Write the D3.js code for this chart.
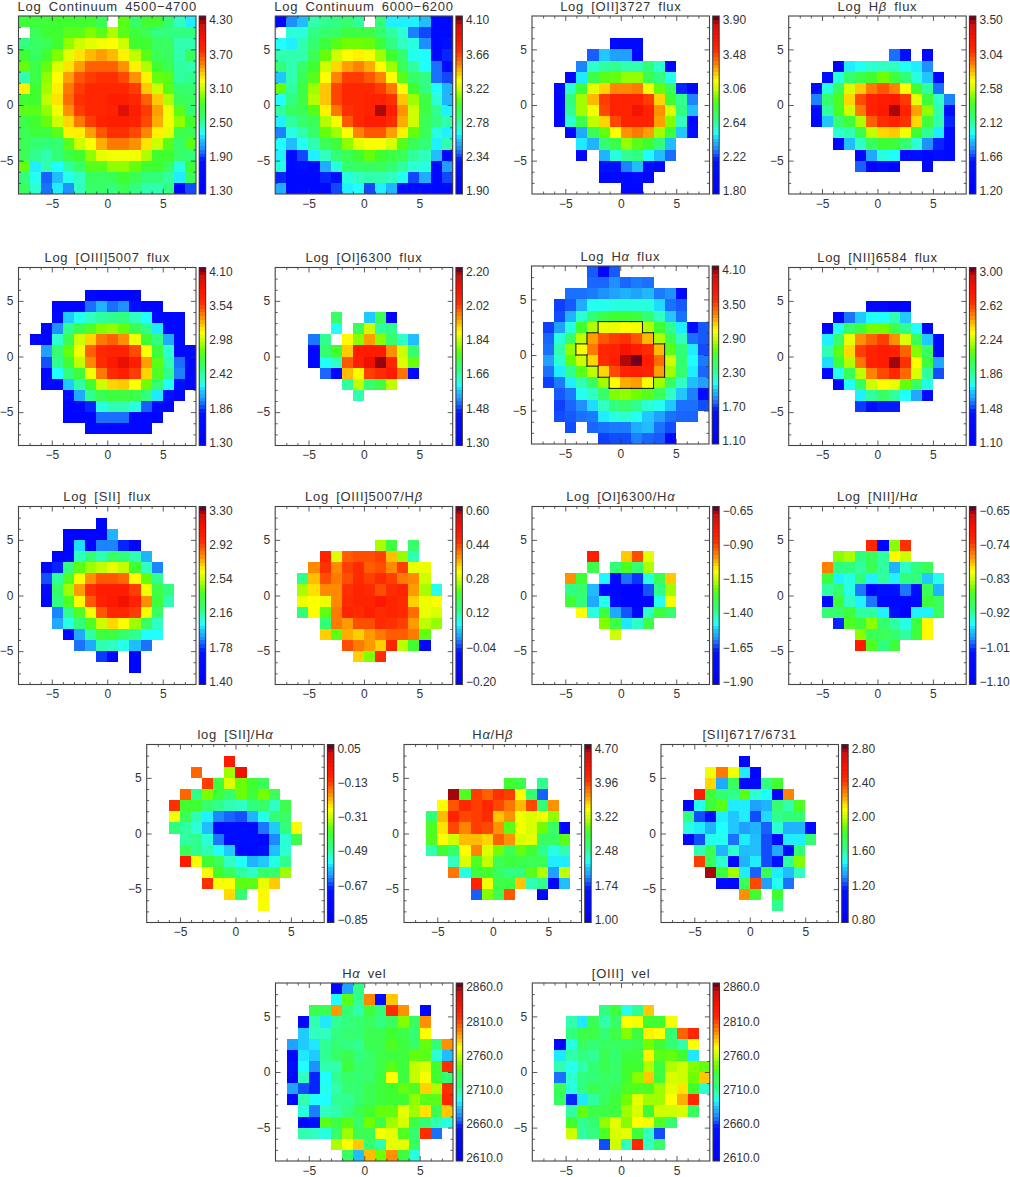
<!DOCTYPE html>
<html>
<head>
<meta charset="utf-8">
<script src="https://cdn.jsdelivr.net/npm/d3@7"></script>
<style>
body { margin: 0; background: #fff; }
text { font-family: "Liberation Sans", sans-serif; fill: #333; }
</style>
</head>
<body>
<script>
// rows run from y = 7..8 down to y = -8..-7, holes are empty cells
var contBlue = [
[2.77,2.77,2.77,2.8,2.8,2.8,2.8,2.71,,2.86,2.65,2.8,2.8,2.62,2.44,2.29],
[,2.71,2.8,2.8,2.86,2.86,2.95,2.86,3.04,2.86,2.77,2.71,2.56,2.56,2.56,2.56],
[2.56,2.65,2.71,2.8,2.98,3.1,3.16,3.19,3.22,3.1,2.8,2.8,2.68,2.68,2.47,2.47],
[2.8,2.68,2.8,2.95,3.16,3.28,3.37,3.43,3.37,3.25,3.07,2.86,2.71,2.68,2.47,2.68],
[2.89,2.74,2.89,3.13,3.28,3.43,3.58,3.58,3.58,3.46,3.25,3.04,2.8,2.71,2.5,2.47],
[2.47,2.74,2.98,3.22,3.43,3.61,3.67,3.7,3.7,3.64,3.46,3.25,2.89,2.86,2.5,2.53],
[3.25,2.8,3.01,3.25,3.52,3.67,3.76,3.76,3.76,3.76,3.67,3.34,3.1,2.86,2.62,2.62],
[2.8,2.8,3.07,3.28,3.55,3.7,3.76,3.76,3.82,3.82,3.76,3.58,3.34,3.04,2.71,2.68],
[2.86,2.86,2.98,3.19,3.46,3.67,3.76,3.76,3.79,4.09,3.82,3.67,3.43,3.19,2.86,2.62],
[2.74,2.8,2.89,3.1,3.31,3.52,3.67,3.79,3.82,3.82,3.79,3.64,3.4,3.19,2.98,2.8],
[2.71,2.77,2.77,2.86,3.25,3.25,3.43,3.61,3.7,3.7,3.64,3.49,3.25,3.16,2.74,2.71],
[2.71,2.62,2.59,2.62,2.86,3.1,3.22,3.4,3.52,3.52,3.46,3.28,3.1,2.86,2.65,2.86],
[2.71,2.53,2.47,2.59,2.74,2.8,2.98,3.16,3.19,3.19,3.19,3.04,2.8,2.8,2.65,2.59],
[2.89,2.29,2.47,2.32,2.5,2.65,2.86,2.86,2.98,2.98,2.89,2.8,2.8,2.68,2.38,2.77],
[2.59,2.35,1.99,2.2,2.35,2.44,2.68,2.68,2.71,2.8,2.71,2.59,2.59,2.5,2.29,2.71],
[2.68,2.41,2.02,2.29,2.08,2.44,2.65,2.65,2.56,2.71,2.56,2.47,2.47,2.56,1.45,1.96]
];
var contRed = [
[2.12,2.47,2.56,2.76,2.8,2.82,2.87,2.78,,2.85,2.63,2.63,2.63,2.56,2.12,2.12],
[,2.71,2.69,2.82,2.87,2.89,2.96,2.96,2.96,2.87,2.78,2.71,2.45,2.38,2.12,2.12],
[2.65,2.63,2.76,2.87,2.98,3.04,3.09,3.09,3.07,2.98,2.82,2.74,2.69,2.47,2.12,2.3],
[2.76,2.76,2.76,2.93,3.07,3.22,3.31,3.33,3.29,3.15,3,2.87,2.67,2.65,2.12,2.34],
[2.85,2.76,2.89,3,3.22,3.37,3.46,3.51,3.44,3.31,3.15,2.93,2.78,2.65,2.43,2.16],
[2.58,2.76,2.93,3.04,3.31,3.51,3.64,3.64,3.59,3.51,3.31,3.04,2.89,2.82,2.43,2.38],
[3.07,2.78,2.96,3.15,3.4,3.62,3.7,3.7,3.7,3.64,3.53,3.31,3,2.82,2.65,2.54],
[2.65,2.82,2.96,3.18,3.4,3.62,3.7,3.7,3.73,3.73,3.66,3.4,3.15,2.96,2.71,2.54],
[2.78,2.91,2.93,3.04,3.33,3.53,3.66,3.7,3.73,4.03,3.75,3.48,3.22,2.96,2.8,2.63],
[2.63,2.78,2.87,2.93,3.18,3.29,3.59,3.7,3.75,3.75,3.68,3.44,3.22,2.93,2.82,2.76],
[2.45,2.69,2.76,2.89,3.07,3.15,3.31,3.51,3.59,3.59,3.46,3.33,3.07,2.93,2.69,2.63],
[2.65,2.56,2.67,2.76,2.93,2.98,3.13,3.26,3.31,3.31,3.24,3.04,2.93,2.85,2.63,2.76],
[2.63,2.16,2.38,2.63,2.74,2.85,2.93,3,3.07,3,2.96,2.93,2.78,2.74,2.56,2.12],
[2.69,2.12,2.27,2.12,2.52,2.69,2.87,2.91,2.91,2.93,2.87,2.78,2.71,2.69,2.12,2.49],
[2.34,2.12,2.12,2.12,2.34,2.3,2.69,2.74,2.76,2.76,2.74,2.67,2.38,2.52,2.12,2.38],
[2.52,2.12,2.12,2.12,2.12,2.38,2.63,2.65,2.38,2.63,2.54,2.27,2.23,2.12,2.12,2.12]
];
var oiiFlux = [
[],
[],
[,,,,,,,2,2,2],
[,,,,,2.28,2.45,2.37,2.37,1.97],
[,,,,2.33,2.58,2.64,2.66,2.62,2.62,2.7,2.58,2.01],
[,,,1.97,2.49,2.81,2.89,2.91,2.98,2.98,2.79,2.68,2.54],
[,,2.05,2.58,2.83,3.1,3.21,3.33,3.33,3.35,3.12,2.91,2.77,2.22,1.97],
[,,1.97,2.7,3,3.25,3.46,3.54,3.54,3.54,3.46,3.21,2.85,2.66,2.33],
[,,1.97,2.66,3,3.12,3.44,3.54,3.54,3.65,3.54,3.31,3.08,2.68,2.43],
[,,1.97,2.58,2.81,3.04,3.21,3.44,3.54,3.54,3.54,3.29,2.96,2.6,1.97],
[,,,1.97,2.39,2.79,2.91,3.14,3.31,3.35,3.29,3,2.83,2.45,2.12],
[,,,,2.49,2.41,2.72,2.81,2.98,2.89,2.85,2.7,2.43],
[,,,,1.97,,2.41,2.56,2.66,2.68,2.51,2.43,2.3],
[,,,,,,2.18,2.18,2.33,2.43,2.07,2.01],
[,,,,,,2.01,2.01,2.01,2.09,1.97],
[,,,,,,,,1.97,1.97]
];
var hbFlux = [
[],
[],
[],
[,,,,,,,,,1.75,1.61,,1.38],
[,,,,1.32,1.96,2,2.05,2.07,2.07,2,1.96,1.8],
[,,,1.55,2.03,2.21,2.3,2.35,2.44,2.33,2.19,2.03,1.91,1.38],
[,,1.5,2.03,2.26,2.6,2.76,2.9,2.97,2.88,2.67,2.35,2.12,1.75],
[,,1.78,2.21,2.37,2.74,2.99,3.11,3.13,3.16,3.02,2.63,2.33,2.07,1.78],
[,,1.48,2.12,2.37,2.58,2.9,3.11,3.16,3.43,3.11,2.83,2.49,2.1,1.55],
[,,1.38,1.91,2.21,2.33,2.53,2.95,3.06,3.11,3.04,2.74,2.33,2.1,1.66],
[,,,,2.05,2.1,2.3,2.56,2.74,2.76,2.65,2.35,2.14,1.96,1.48],
[,,,,1.36,1.89,2.07,2.26,2.35,2.33,2.21,2.05,1.8,1.66,1.43],
[,,,,,,1.38,1.84,2.03,1.98,1.52,1.61,1.43,1.57,1.48],
[,,,,,,1.73,1.32,1.52,1.36,,,1.36],
[],
[]
];
var oiiiFlux = [
[],
[],
[,,,,,,1.58,1.5,1.5,1.5,1.5],
[,,,1.47,1.47,1.5,1.97,2.11,1.97,2.03,1.75,1.5,1.5],
[,,,1.58,2.17,2.28,2.36,2.42,2.45,2.48,2.36,2.25,1.58,1.58,1.58],
[,,1.5,2.03,2.45,2.62,2.73,2.84,2.87,2.78,2.62,2.45,2.22,1.58,1.58],
[,1.5,1.5,2.34,2.62,2.98,3.18,3.37,3.43,3.32,3.06,2.7,2.48,2.08,1.58],
[,,2.06,2.53,2.78,3.06,3.43,3.6,3.62,3.62,3.48,3.09,2.67,2.34,1.58,1.58],
[,,1.92,2.45,2.7,2.95,3.34,3.57,3.68,3.85,3.65,3.29,2.76,2.39,1.97,1.58],
[,,1.52,2.25,2.5,2.67,3.06,3.37,3.57,3.65,3.51,3.18,2.73,2.45,2,1.52],
[,,1.52,1.52,2.17,2.42,2.7,2.98,3.18,3.2,3.09,2.81,2.53,2.25,1.78,1.52],
[,,,,1.72,2.08,2.45,2.62,2.67,2.67,2.64,2.48,2.22,1.8,1.52],
[,,,,1.5,1.52,1.86,2.31,2.39,2.39,2.31,1.94,1.58,1.55],
[,,,,1.5,1.5,1.5,1.97,1.97,1.97,1.55,1.55,1.5],
[,,,,,,1.58,1.58,1.55,1.52,1.52,1.52],
[]
];
var oiFlux = [
[],
[],
[],
[],
[,,,,,1.71,,,1.58,1.72,1.35],
[,,,,,1.61,,1.72,1.84,1.66,1.67],
[,,,1.52,1.67,,1.88,1.8,1.94,1.8,1.7,1.64,1.57],
[,,,1.37,1.7,1.75,1.91,2.06,2.06,2.06,1.95,1.84,1.7],
[,,,1.37,1.61,1.64,1.99,2.05,2.11,2.18,2.04,1.85,1.78],
[,,,,1.51,1.37,1.92,1.88,2.01,2.03,2.06,1.97,1.37],
[,,,,,,1.66,1.83,1.7,1.74,1.83],
[,,,,,,,1.65],
[],
[],
[],
[]
];
var haFlux = [
[,,,,,1.78,1.36,1.78],
[,,,,,1.8,1.8,1.88,1.8,1.84,1.82],
[,,,1.82,1.82,1.84,1.88,1.92,1.96,1.92,1.98,1.84,1.88,1.37],
[,,1.74,1.78,1.95,2.15,2.15,2.18,2.18,2.18,2.18,2.06,1.82,1.78],
[,,1.76,1.97,2.21,2.39,2.54,2.6,2.6,2.57,2.42,2.24,2.03,1.82],
[,1.74,1.91,2.18,2.6,2.84,2.97,2.97,3.02,3,2.84,2.6,2.33,2.09,1.5,1.78],
[,1.8,2.18,2.45,2.87,3.23,3.41,3.47,3.5,3.41,3.17,2.84,2.51,2.24,1.82,1.78],
[,1.82,2.27,2.78,3,3.32,3.56,3.59,3.74,3.62,3.53,3.17,2.66,2.39,2.09,1.76],
[,1.91,2.21,2.69,2.9,3.11,3.53,3.62,4,4.07,3.62,3.35,2.9,2.42,2.12,1.84],
[,1.82,2.09,2.33,2.66,2.87,3.11,3.44,3.59,3.62,3.59,3.23,2.81,2.42,2.09,1.8],
[,1.74,1.84,2.09,2.27,2.48,2.81,3.02,3.2,3.23,3,2.81,2.48,2.24,2,1.91],
[,,1.78,1.84,2.15,2.24,2.45,2.75,2.78,2.72,2.66,2.51,2.24,2.03,1.85,1.5],
[,,1.74,1.8,1.88,2.06,2.24,2.36,2.45,2.33,2.21,2.15,2.03,1.82,1.82,1.76],
[,,1.76,1.78,1.82,1.84,2.09,2.18,2.21,2.15,2.03,1.91,1.82,1.8,1.8],
[,,,1.76,,1.8,1.82,1.84,1.84,1.95,2,1.82,1.76],
[,,,,,,1.74,1.76,1.76,1.85,1.8,1.78,1.4]
];
var niiFlux = [
[],
[],
[],
[,,,,,,,1.25,1.25,1.21,1.23],
[,,,,1.21,1.56,1.69,1.75,1.75,1.84,1.69],
[,,,1.21,1.75,1.96,2.03,2.13,2.13,2.01,1.88,1.75,1.25],
[,,,1.73,1.96,2.28,2.47,2.54,2.6,2.47,2.26,1.99,1.69,1.25],
[,,,1.84,2.09,2.37,2.6,2.68,2.7,2.68,2.54,2.15,1.97,1.25],
[,,,1.71,2.03,2.2,2.51,2.68,2.7,2.95,2.62,2.32,2.03,1.63],
[,,,1.25,1.77,1.99,2.22,2.49,2.58,2.66,2.53,2.26,1.86,1.52],
[,,,,1.25,1.75,1.97,2.24,2.32,2.28,2.11,1.97,1.78],
[,,,,,,1.73,1.86,1.96,1.86,1.75,1.63,1.29],
[,,,,,,1.5,1.4,1.47,1.47],
[],
[],
[]
];
var siiFlux = [
[],
[,,,,,,,1.53],
[,,,,1.53,1.51,1.53,1.51,1.95],
[,,,,1.51,2.01,1.53,1.88,1.88,1.78,1.55],
[,,,1.53,1.53,2.12,2.22,2.14,2.26,2.22,2.14,1.95],
[,,1.53,1.78,2.2,2.39,2.48,2.52,2.58,2.52,2.35,2.12,1.88],
[,,1.82,2.16,2.37,2.6,2.77,2.86,2.86,2.83,2.62,2.41,2.18],
[,,1.63,2.26,2.48,2.75,2.92,3,3,3,2.9,2.6,2.31,2.2],
[,,1.53,2.2,2.37,2.62,2.86,2.98,3.02,3.09,2.98,2.77,2.33,2.14],
[,,,1.88,2.18,2.37,2.6,2.86,2.96,2.96,2.9,2.6,2.27],
[,,,1.93,2.08,2.22,2.37,2.54,2.67,2.62,2.48,2.27,2.12],
[,,,,1.55,1.93,2.16,2.33,2.33,2.24,2.18,2.05,2.05],
[,,,,,1.86,1.93,2.14,2.12,2.07,1.97,1.86],
[,,,,,,,1.8,1.53,,1.53],
[,,,,,,,,,,1.53],
[]
];
var oiiiHb = [
[],
[],
[],
[,,,,,,,,,.26,.19,,.16],
[,,,,.46,.29,.41,.42,.42,.43,.35,.25,.11],
[,,,.38,.44,.38,.43,.45,.41,.42,.38,.43,.3,.3],
[,,.13,.35,.42,.39,.42,.45,.43,.45,.43,.39,.38,.28],
[,,.26,.33,.38,.38,.44,.46,.45,.42,.45,.46,.37,.26,.08],
[,,.3,.31,.3,.38,.45,.46,.46,.48,.46,.45,.34,.3,.31],
[,,.14,.31,.22,.39,.46,.45,.47,.45,.46,.45,.4,.3,.29],
[,,,,.15,.39,.37,.42,.42,.45,.44,.43,.37,.27,.25],
[,,,,.34,.22,.36,.34,.37,.39,.41,.41,.39,.22],
[,,,,,,.42,.39,.37,.34,.46,.27,.2,-.14],
[,,,,,,,.34,.24,.45],
[],
[]
];
var oiHa = [
[],
[],
[],
[],
[,,,,,-.85,,,-1.05,-.93,-1.13],
[,,,,,-1.3,,-1.36,-1.26,-1.35,-1.18],
[,,,-1,-1.28,,-1.48,-1.78,-1.6,-1.64,-1.45,-1.31,-1.05],
[,,,-1.38,-1.35,-1.53,-1.8,-1.81,-1.84,-1.84,-1.62,-1.38,-1.19],
[,,,-1.28,-1.36,-1.55,-1.46,-1.74,-1.83,-1.83,-1.81,-1.46,-1.11],
[,,,,-1.1,-1.45,-1.29,-1.55,-1.62,-1.81,-1.43,-1.29,-1.35],
[,,,,,,-1.21,-1.3,-1.49,-1.43,-1.3],
[,,,,,,,-1.15],
[],
[],
[],
[]
];
var niiHa = [
[],
[],
[],
[,,,,,,,-.73,-1.07,-.85,-.74],
[,,,,-.85,-.84,-.91,-.89,-.92,-.81,-.83],
[,,,-.77,-.91,-.91,-.92,-.89,-.92,-.97,-.93,-.91,-.89],
[,,,-.88,-.95,-.94,-.91,-.95,-.92,-.95,-.91,-.91,-.96,-.94],
[,,,-.92,-.9,-.94,-.99,-1.07,-1.02,-1.02,-.99,-1.02,-.89,-.97],
[,,,-1.06,-.88,-.93,-.95,-.99,-1.05,-1.05,-1.06,-1.04,-.88,-.89],
[,,,-.9,-.9,-.88,-.92,-.92,-.95,-1.02,-1.08,-.95,-.95,-.89],
[,,,,-1.01,-.87,-.88,-.85,-.9,-.92,-.94,-.88,-.81],
[,,,,,,-.85,-.89,-.89,-.9,-.92,-.88,-.81],
[,,,,,,-.72,-.87,-.91,-.88],
[],
[],
[]
];
var siiHa = [
[],
[,,,,,,,-.09],
[,,,,-.17,,,-.34,-.04],
[,,,,,-.14,-.41,-.3,-.37,-.4,-.43],
[,,,-.17,-.48,-.36,-.41,-.45,-.37,-.41,-.36,-.43],
[,,-.13,-.4,-.4,-.45,-.48,-.5,-.51,-.47,-.45,-.51,-.42],
[,,-.28,-.43,-.5,-.55,-.62,-.64,-.65,-.59,-.53,-.46,-.44],
[,,-.47,-.49,-.52,-.58,-.76,-.72,-.72,-.74,-.63,-.57,-.47,-.27],
[,,,-.49,-.48,-.52,-.63,-.74,-.72,-.72,-.78,-.62,-.52,-.42],
[,,,-.43,-.48,-.5,-.54,-.57,-.77,-.76,-.69,-.58,-.52],
[,,,-.09,-.28,-.4,-.43,-.51,-.54,-.59,-.57,-.53,-.48],
[,,,,,-.28,-.4,-.43,-.49,-.51,-.45,-.45,-.34],
[,,,,,-.13,-.28,-.28,-.38,-.38,-.29,-.24],
[,,,,,,,-.25,-.46,,-.27],
[,,,,,,,,,,-.28],
[]
];
var haHb = [
[],
[],
[],
[,,,,,,,,,2.85,2.78,,2.52],
[,,,,4.6,2.89,3.92,3.81,3.96,3.92,3.37,2.63,1.85],
[,,,3.37,3.85,4.03,3.92,4.03,3.89,3.74,3.55,3.89,2.63,3.66],
[,,2.59,3.55,4.07,3.89,3.92,4,3.52,3.66,3.33,3.26,3.33,3.07],
[,,2.89,3.44,3.89,3.7,3.92,3.89,3.66,2.92,3.33,3.26,3,2.67,1.3],
[,,2.89,3.37,3.22,3.55,3.55,3.48,3.81,3.66,3.26,3.29,2.7,2.7,2.92],
[,,2.44,2.85,2.67,3.37,3.7,3.26,3,2.74,2.96,2.85,2.52,2.33,2.44],
[,,,,2.41,3.26,2.89,3.18,2.74,2.81,2.78,2.74,2.74,2.22,2.22],
[,,,,3.74,2.33,2.81,2.85,2.7,2.55,2.55,2.92,3.15,2,3.18],
[,,,,,,4.07,3.33,2.78,2.78,3.52,2.44,2.52,1.3,2.11],
[,,,,,,1.85,3.04,2.74,3.85,,,1.26],
[],
[]
];
var siiRatio = [
[],
[,,,,,,,.96],
[,,,,2.06,2.28,2.06,1.46,.94],
[,,,,2.14,1.36,1.72,1.04,1.04,1.64,1.8],
[,,,2.48,1.78,1.68,1.62,1.84,1.54,1.48,.94,2.26],
[,,.94,1.5,1.78,1.84,1.46,1.46,1.34,1.38,1.68,1.58,1.82],
[,,1.64,1.24,1.06,1.46,1.42,1.46,1.24,1.44,1.62,1.66,1.68],
[,,1.52,1.46,1.38,1.48,1.42,1.34,1.38,1.26,1.54,1.38,1.38,1.06],
[,,.96,1.24,1.5,1.5,1.28,1.46,1.4,1.24,1.04,1.46,1.46,1.68],
[,,,1.58,1.74,1.38,1.54,1.4,1.4,1.24,1.36,1.04,1.66],
[,,,2.38,1.72,1.54,.96,1.38,1.46,1.24,1.16,1.6,1.9],
[,,,,2.74,1.78,1.94,1.46,1.26,1.74,1.46,1.4,1.56],
[,,,,,1.04,.96,1.74,2.36,1.34,1.5,1.28],
[,,,,,,,2.24,1.8,,1.8],
[,,,,,,,,,,1.62],
[]
];
var haVel = [
[,,,,,2630,2678,2715],
[,,,,,2695,2740,2712,2792,2648,2780],
[,,,2728,2728,2788,2718,2708,2732,2718,2812,2790,,2630],
[,,2630,2708,2692,2712,2715,2720,2725,2715,2725,2748,2725,2790],
[,,2688,2705,2705,2715,2720,2720,2728,2728,2735,2730,2720,2770],
[,2678,2688,2692,2712,2718,2715,2712,2728,2728,2738,2732,2722,2742,2718,2790],
[,2630,2692,2688,2712,2722,2728,2715,2722,2730,2732,2732,2742,2740,2702,2685],
[,2648,2695,2675,2708,2708,2732,2722,2722,2730,2740,2732,2758,2762,2735,2810],
[,2630,2705,2660,2695,2712,2722,2720,2722,2732,2770,2732,2758,2768,2735,2720],
[,2678,2665,2660,2698,2708,2720,2720,2728,2732,2735,2742,2738,2778,2755,2810],
[,2630,2708,2695,2695,2712,2712,2720,2728,2732,2735,2735,2750,2740,2740,2815],
[,,2700,2672,2705,2708,2715,2728,2735,2742,2742,2765,2752,2775,2728,2780],
[,,2630,2655,2740,2730,2740,2722,2745,2730,2752,2762,2730,2718,2708,2700],
[,,2708,2705,2700,2722,2752,2728,2728,2768,2765,2738,2720,2812,2670],
[,,,,,2755,2770,2780,2720,2708,2765,2765,2725],
[,,,,,,2725,2685,2782,2745,2790,2732,2700]
];
var oiiiVel = [
[],
[],
[,,,,,,2715,2732,2698,2712,2780],
[,,,2708,2692,2728,2708,2722,2770,2768,2735,2735,2768],
[,,,2715,2730,2730,2718,2730,2748,2732,2772,2770,2720,2800,2815],
[,,2628,2700,2725,2718,2725,2725,2725,2728,2745,2735,2720,2708,2770],
[,,2692,2708,2715,2712,2728,2720,2732,2732,2772,2740,2742,2735,2692],
[,,2708,2698,2708,2718,2728,2722,2735,2735,2755,2732,2755,2760,2748,2742],
[,,2670,2702,2715,2718,2725,2722,2735,2748,2780,2732,2762,2760,2745,2780],
[,,2728,2700,2715,2728,2722,2728,2738,2738,2738,2752,2765,2775,2735,2702],
[,,2725,2660,2692,2710,2725,2732,2745,2765,2752,2752,2770,2785,2815],
[,,,2710,2742,2730,2730,2732,2752,2762,2735,2760,2760,2762,2725],
[,,,2735,2712,2720,2750,2765,2748,2770,2768,2738,2720],
[,,,2760,2710,2715,2738,2762,2765,2732,2705,2665],
[,,,,,,2665,2760,2705,2815,2705,2722],
[]
];

var panelData = [contBlue, contRed, oiiFlux, hbFlux, oiiiFlux, oiFlux, haFlux, niiFlux,
  siiFlux, oiiiHb, oiHa, niiHa, siiHa, haHb, siiRatio, haVel, oiiiVel];

var titles = ["Log Continuum 4500\u22124700", "Log Continuum 6000\u22126200", "Log [OII]3727 flux", "Log H\u03b2 flux",
  "Log [OIII]5007 flux", "Log [OI]6300 flux", "Log H\u03b1 flux", "Log [NII]6584 flux",
  "Log [SII] flux", "Log [OIII]5007/H\u03b2", "Log [OI]6300/H\u03b1", "Log [NII]/H\u03b1",
  "log [SII]/H\u03b1", "H\u03b1/H\u03b2", "[SII]6717/6731", "H\u03b1 vel", "[OIII] vel"];

// top to bottom, as printed beside each colour bar
var barLabels = [
  ["4.30","3.70","3.10","2.50","1.90","1.30"],
  ["4.10","3.66","3.22","2.78","2.34","1.90"],
  ["3.90","3.48","3.06","2.64","2.22","1.80"],
  ["3.50","3.04","2.58","2.12","1.66","1.20"],
  ["4.10","3.54","2.98","2.42","1.86","1.30"],
  ["2.20","2.02","1.84","1.66","1.48","1.30"],
  ["4.10","3.50","2.90","2.30","1.70","1.10"],
  ["3.00","2.62","2.24","1.86","1.48","1.10"],
  ["3.30","2.92","2.54","2.16","1.78","1.40"],
  ["0.60","0.44","0.28","0.12","-0.04","-0.20"],
  ["-0.65","-0.90","-1.15","-1.40","-1.65","-1.90"],
  ["-0.65","-0.74","-0.83","-0.92","-1.01","-1.10"],
  ["0.05","-0.13","-0.31","-0.49","-0.67","-0.85"],
  ["4.70","3.96","3.22","2.48","1.74","1.00"],
  ["2.80","2.40","2.00","1.60","1.20","0.80"],
  ["2860.0","2810.0","2760.0","2710.0","2660.0","2610.0"],
  ["2860.0","2810.0","2760.0","2710.0","2660.0","2610.0"]
];

var panelLeft = [18.5,275.2,532,788.7, 18.5,275.2,531.5,788.7, 18.5,275.2,532,788.7, 146.7,404,661, 275.5,532.3];
var panelTop = [16,16,16,16, 267.5,267.5,266,267.5, 506.5,506.5,506.5,506.5, 744.5,744.5,744.5, 983,983];

var colourStops = [0,.01,.19,.23,.27,.31,.34,.38,.42,.46,.5,.54,.59,.64,.68,.72,.76,.8,.85,.9,.95,.97,.99,1];
var colourValues = ["#0000b0","#0000ff","#0010ff","#1860ff","#20a0ff","#20c8ff","#20ffff","#30ffc0","#30ff80","#38ff60","#40ff30","#70ff00","#c0ff00","#ffff00","#ffc800","#ff9000","#ff6000","#ff3000","#ff1800","#f01000","#d01010","#a80808","#700020","#300010"];
var levels = 48;

var contourPanel = 6;   // Log Halpha flux carries the black outline
var contourLevel = 2.92;

var frameW = 177.5, frameH = 178;
var colour = d3.scaleLinear().domain(colourStops).range(colourValues).clamp(true);

var svg = d3.select("body").append("svg")
  .attr("width", 1010)
  .attr("height", 1177)
  .style("display", "block");

panelData.forEach(function (rows, p) {
  var labels = barLabels[p].map(Number);
  var vMax = labels[0], vMin = labels[5];

  var g = svg.append("g")
    .attr("transform", "translate(" + panelLeft[p] + "," + panelTop[p] + ")");

  var x = d3.scaleLinear().domain([-8, 8]).range([0, frameW]);
  var y = d3.scaleLinear().domain([-8, 8]).range([frameH, 0]);
  var t = d3.scaleLinear().domain([vMin, vMax]).range([0, 1]);

  var cells = [];
  rows.forEach(function (row, r) {
    row.forEach(function (v, c) {
      cells.push({ col: c - 8, row: 7 - r, value: v });
    });
  });

  g.selectAll("rect.cell")
    .data(cells)
    .enter()
    .append("rect")
    .attr("class", "cell")
    .attr("x", function (d) { return x(d.col); })
    .attr("y", function (d) { return y(d.row + 1); })
    .attr("width", x(1) - x(0))
    .attr("height", y(0) - y(1))
    .attr("shape-rendering", "crispEdges")
    .style("fill", function (d) { return colour(t(d.value)); });

  if (p === contourPanel) {
    var inside = function (c, r) {
      var row = rows[r];
      return row !== undefined && row[c] !== undefined && row[c] >= contourLevel;
    };
    var edges = "";
    rows.forEach(function (row, r) {
      row.forEach(function (v, c) {
        if (v < contourLevel) return;
        var x0 = x(c - 8), x1 = x(c - 7), y0 = y(8 - r), y1 = y(7 - r);
        if (!inside(c, r - 1)) edges += "M" + x0 + "," + y0 + "H" + x1;
        if (!inside(c, r + 1)) edges += "M" + x0 + "," + y1 + "H" + x1;
        if (!inside(c - 1, r)) edges += "M" + x0 + "," + y0 + "V" + y1;
        if (!inside(c + 1, r)) edges += "M" + x1 + "," + y0 + "V" + y1;
      });
    });
    g.append("path")
      .attr("d", edges)
      .style("fill", "none")
      .style("stroke", "#111")
      .style("stroke-width", 1)
      .style("stroke-linecap", "square");
  }

  // axes: inward major and minor ticks on all four sides
  var majors = [-5, 0, 5];
  var minors = d3.range(-7, 8).filter(function (v) { return majors.indexOf(v) < 0; });
  var axes = [
    [d3.axisBottom(x), "translate(0," + frameH + ")", true],
    [d3.axisLeft(y), "translate(0,0)", true],
    [d3.axisTop(x), "translate(0,0)", false],
    [d3.axisRight(y), "translate(" + frameW + ",0)", false]
  ];
  axes.forEach(function (a) {
    var major = a[0].tickValues(majors).tickSize(-5).tickPadding(a[2] ? 5 : 0);
    if (!a[2]) major.tickFormat("");
    var ga = g.append("g").attr("transform", a[1]).call(major);
    var minor = a[0].tickValues(minors).tickSize(-2.5).tickFormat("");
    var gm = g.append("g").attr("transform", a[1]).call(minor);
    [ga, gm].forEach(function (s) {
      s.select(".domain").remove();
      s.selectAll("line").style("stroke", "#333").style("stroke-width", 0.8);
      s.selectAll("text").style("font-family", "Liberation Sans").style("font-size", "12px").style("fill", "#333");
    });
  });

  g.append("rect")
    .attr("width", frameW)
    .attr("height", frameH)
    .style("fill", "none")
    .style("stroke", "#444")
    .style("stroke-width", 1.1);

  // title, greek letters set apart
  var title = g.append("text")
    .attr("x", frameW / 2)
    .attr("y", -5.5)
    .attr("text-anchor", "middle")
    .style("font-size", "13px")
    .style("letter-spacing", "0.7px")
    .style("word-spacing", "3px");
  titles[p].split(/([\u03b1\u03b2])/).forEach(function (part) {
    var span = title.append("tspan").text(part);
    if (part === "\u03b1" || part === "\u03b2") {
      span.style("font-style", "italic");
    }
  });

  // colour bar
  var barX = frameW + 3.2, barW = 6.5;
  var bar = g.append("g").attr("transform", "translate(" + barX + ",0)");
  var b = d3.scaleLinear().domain([0, levels]).range([frameH, 0]);
  bar.selectAll("rect")
    .data(d3.range(levels))
    .enter()
    .append("rect")
    .attr("y", function (d) { return b(d + 1); })
    .attr("width", barW)
    .attr("height", b(0) - b(1) + 0.4)
    .attr("shape-rendering", "crispEdges")
    .style("fill", function (d) { return colour((d + 0.5) / levels); });
  bar.append("rect")
    .attr("width", barW)
    .attr("height", frameH)
    .style("fill", "none")
    .style("stroke", "#333")
    .style("stroke-width", 1);

  var labelScale = d3.scaleLinear().domain([vMin, vMax]).range([frameH - 3, 4]);
  var barAxis = d3.axisRight(labelScale)
    .tickValues(labels)
    .tickSize(0)
    .tickPadding(3.5)
    .tickFormat(function (d, i) { return barLabels[p][i].replace("-", "\u2212"); });
  var gb = g.append("g")
    .attr("transform", "translate(" + (barX + barW) + ",0)")
    .call(barAxis);
  gb.select(".domain").remove();
  gb.selectAll("text").style("font-family", "Liberation Sans").style("font-size", "12px").style("fill", "#333");
});
</script>
</body>
</html>
